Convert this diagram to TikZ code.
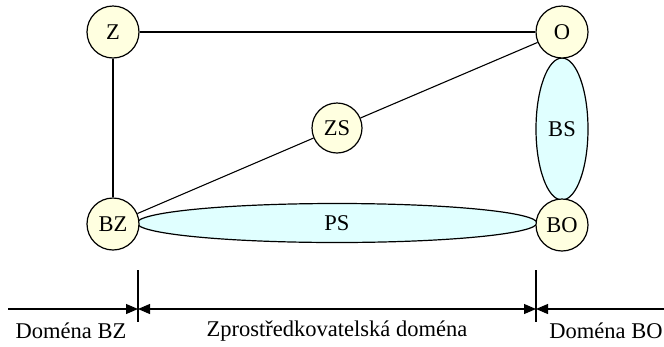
\documentclass[tikz,border=0pt]{standalone}
\usepackage{fontspec}
\setmainfont{Liberation Serif}
\usepackage{tikz}
\usepackage{xcolor}
\usetikzlibrary{shapes.geometric, arrows.meta, positioning, calc}
\definecolor{NodeYellow}{HTML}{FFFFE0}
\definecolor{SegCyan}{HTML}{E0FFFF}
\tikzset{
  party/.style={circle, draw, line width=1.2pt, fill=NodeYellow, minimum size=52pt, inner sep=0pt},
  segment/.style={ellipse, draw, line width=1.2pt, fill=SegCyan, inner sep=0pt},
  link/.style={line width=1.1pt},
  span/.style={line width=1.1pt, {Triangle[length=12pt,width=10pt]}-{Triangle[length=12pt,width=10pt]}},
  tip/.style={line width=1.1pt, -{Triangle[length=12pt,width=10pt]}}
}

\begin{document}
\begin{tikzpicture}[x=1pt, y=-1pt, font=\fontsize{22.5}{26}\selectfont]
\useasboundingbox (0,0) rectangle (664,346);
% --- Segments ---
\node[segment, minimum width=400pt, minimum height=39pt] (PS) at (337,223) {PS};
\node[segment, minimum width=52pt, minimum height=142pt] (BS) at (562,129) {BS};
% --- Parties ---
\node[party] (Z) at (113,32) {Z};
\node[party] (O) at (562,32) {O};
\node[party] (BZ) at (113,224) {BZ};
\node[party] (BO) at (562,225) {BO};
\node[party, minimum size=50pt] (ZS) at (337,128) {ZS};
% Links
\draw[link] (Z) -- (O);
\draw[link] (Z) -- (BZ);
\draw[link] (BZ) -- (ZS);
\draw[link] (ZS) -- (O);
% --- Domain axis ---
\coordinate (axL) at (8,309);
\coordinate (axR) at (664,309);
\coordinate (divL) at (138,309);
\coordinate (divR) at (536,309);
\draw[link] (138,270) -- (138,322);
\draw[link] (536,270) -- (536,322);
\draw[tip] (axL) -- (divL);
\draw[span] (divL) -- (divR);
\draw[tip] (axR) -- (divR);
% Domain labels
\node (domBZ) at (71,331) {Doména BZ};
\node (domZS) at (337,331) {Zprostředkovatelská doména};
\node (domBO) at (606,331) {Doména BO};
\end{tikzpicture}
\end{document}
